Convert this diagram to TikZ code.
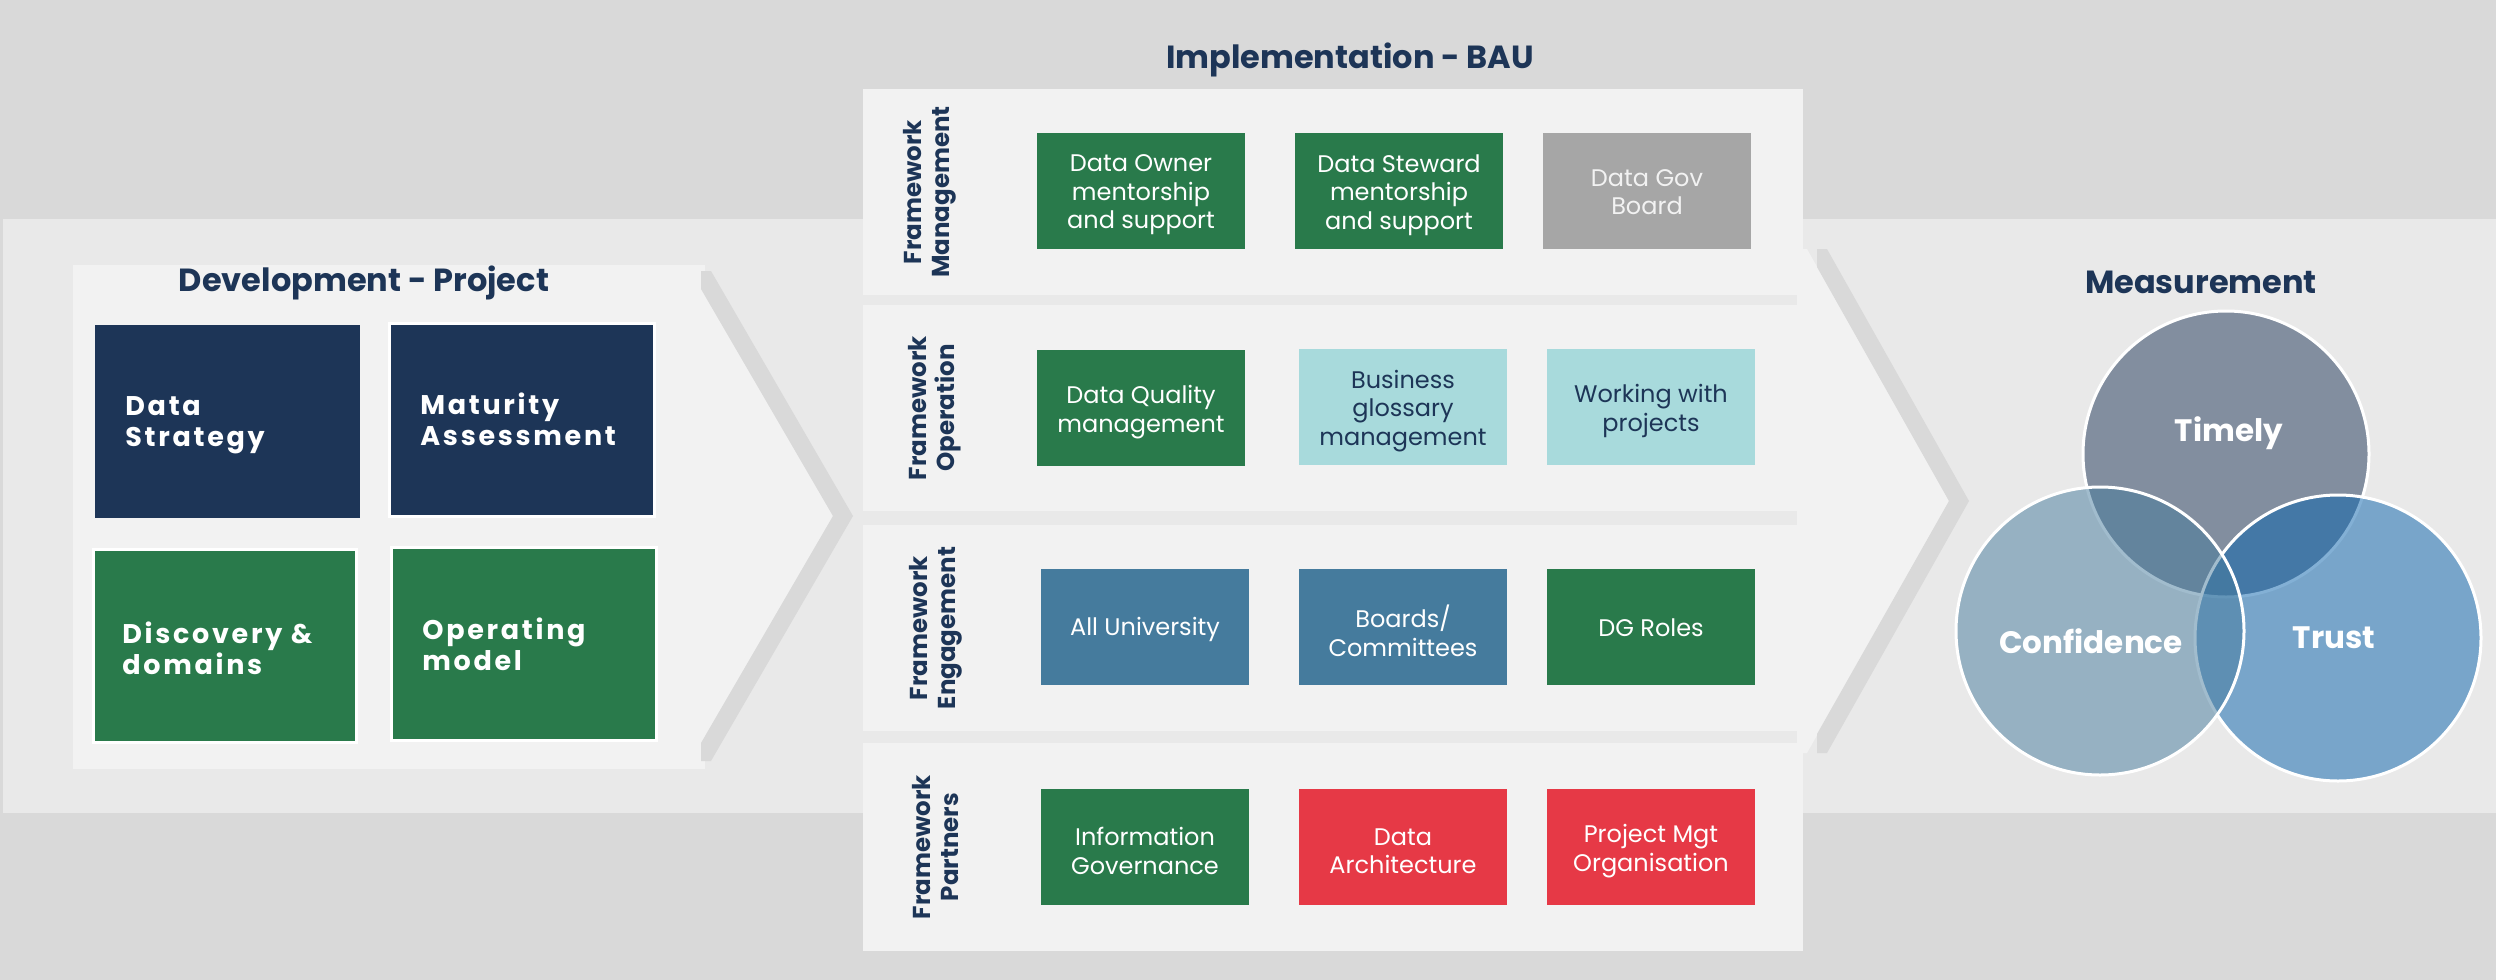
\documentclass[tikz,border=0pt]{standalone}
\usepackage{fontspec}
\setmainfont{Poppins}
\newfontfamily\spaced{Poppins}[LetterSpace=10]
\definecolor{bgA}{HTML}{D9D9D9}
\definecolor{band}{HTML}{E9E9E9}
\definecolor{panel}{HTML}{F2F2F2}
\definecolor{navy}{HTML}{1D3557}
\definecolor{dgreen}{HTML}{297A4B}
\definecolor{gbox}{HTML}{A6A6A6}
\definecolor{tealbox}{HTML}{A8DADC}
\definecolor{steel}{HTML}{457B9D}
\definecolor{redbox}{HTML}{E63946}
\definecolor{trustc}{HTML}{0863AD}
\tikzset{
  mbox/.style={minimum width=104pt, minimum height=58pt, inner sep=0pt},
  mtext/.style={align=center, inner sep=0pt, text=white, font=\fontsize{12}{14.25}\selectfont, yshift=-2pt},
  dbox/.style={minimum height=96.5pt, inner sep=0pt},
  rowlab/.style={rotate=90, align=center, text=navy, inner sep=0pt, font=\bfseries\fontsize{12.25}{14}\selectfont},
  ttl/.style={text=navy, inner sep=0pt, font=\bfseries\fontsize{16}{19}\selectfont},
  dtext/.style={anchor=west, align=left, text=white, inner sep=0pt, font=\spaced\bfseries\fontsize{13.5}{15.5}\selectfont},
  vlab/.style={text=white, inner sep=0pt, font=\bfseries\fontsize{15.5}{18}\selectfont},
  venn/.style={draw=white, line width=1.5pt, fill opacity=0.5},
}
\begin{document}
\begin{tikzpicture}[x=0.5pt, y=-0.5pt]
\useasboundingbox (0,0) rectangle (2496,980);
\fill[bgA] (0,0) rectangle (2496,980);
\fill[band] (3,219) rectangle (2496,813);

% development section
\fill[panel] (73,265) rectangle (705,769);
\fill[panel] (701,289) -- (833,516) -- (701,743) -- cycle;
\fill[bgA] (701,271) -- (711,271) -- (853,516) -- (711,761) -- (701,761) -- (701,743) -- (833,516) -- (701,289) -- cycle;

\node[ttl] (devt) at (364,283) {Development - Project};
\node[dbox, fill=navy, minimum width=132.5pt] (ds) at (227.5,421.5) {};
\node[dbox, fill=navy, draw=white, line width=1.5pt, minimum width=132.5pt] (ma) at (522,420) {};
\node[dbox, fill=dgreen, draw=white, line width=1.5pt, minimum width=131.5pt] (dd) at (225,646) {};
\node[dbox, fill=dgreen, draw=white, line width=1.5pt, minimum width=132.5pt] (om) at (524,644) {};
\node[dtext] (dst) at (125,425) {Data\\Strategy};
\node[dtext] (mat) at (420,419) {Maturity\\Assessment};
\node[dtext] (ddt) at (122,648) {Discovery \&\\domains};
\node[dtext] (omt) at (422,644) {Operating\\model};

% implementation section
\fill[panel] (1797,89) rectangle (1803,951);
\fill[panel] (1803,249) -- (1807,249) -- (1949,501) -- (1807,753) -- (1803,753) -- cycle;
\fill[panel] (863,89) rectangle (1797,295);
\fill[panel] (863,305) rectangle (1797,511);
\fill[panel] (863,525) rectangle (1797,731);
\fill[panel] (863,743) rectangle (1797,951);
\fill[bgA] (1817,249) -- (1827,249) -- (1969,501) -- (1827,753) -- (1817,753) -- (1817,734) -- (1949,501) -- (1817,267) -- cycle;

\node[ttl] (impt) at (1350,60) {Implementation - BAU};

\node[rowlab] (r1) at (930,192) {Framework\\Management};
\node[rowlab] (r2) at (935,408) {Framework\\Operation};
\node[rowlab] (r3) at (936,628) {Framework\\Engagement};
\node[rowlab] (r4) at (936,847) {Framework\\Partners};

\node[mbox, fill=dgreen] (b11) at (1141,191) {};
\node[mbox, fill=dgreen] (b12) at (1399,191) {};
\node[mbox, fill=gbox] (b13) at (1647,191) {};
\node[mbox, fill=dgreen] (b21) at (1141,408) {};
\node[mbox, fill=tealbox] (b22) at (1403,407) {};
\node[mbox, fill=tealbox] (b23) at (1651,407) {};
\node[mbox, fill=steel] (b31) at (1145,627) {};
\node[mbox, fill=steel] (b32) at (1403,627) {};
\node[mbox, fill=dgreen] (b33) at (1651,627) {};
\node[mbox, fill=dgreen] (b41) at (1145,847) {};
\node[mbox, fill=redbox] (b42) at (1403,847) {};
\node[mbox, fill=redbox] (b43) at (1651,847) {};

\node[mtext] (t11) at (b11) {Data Owner\\mentorship\\and support};
\node[mtext] (t12) at (b12) {Data Steward\\mentorship\\and support};
\node[mtext, text=panel, yshift=1.5pt] (t13) at (b13) {Data Gov\\Board};
\node[mtext] (t21) at (b21) {Data Quality\\management};
\node[mtext, text=navy] (t22) at (b22) {Business\\glossary\\management};
\node[mtext, text=navy] (t23) at (b23) {Working with\\projects};
\node[mtext, yshift=1pt] (t31) at (b31) {All University};
\node[mtext] (t32) at (b32) {Boards/\\Committees};
\node[mtext, yshift=1.5pt] (t33) at (b33) {DG Roles};
\node[mtext] (t41) at (b41) {Information\\Governance};
\node[mtext] (t42) at (b42) {Data\\Architecture};
\node[mtext] (t43) at (b43) {Project Mgt\\Organisation};

% measurement section
\node[ttl] (meast) at (2201,282) {Measurement};
\path[venn, fill=navy] (2226,454) circle [radius=143];
\path[venn, fill=trustc] (2338,638) circle [radius=143];
\path[venn, fill=steel] (2100,631) circle [radius=144];
\node[vlab] (tl) at (2229,433) {Timely};
\node[vlab] (cl) at (2091,641) {Confidence};
\node[vlab] (trl) at (2334,638) {Trust};
\end{tikzpicture}
\end{document}
